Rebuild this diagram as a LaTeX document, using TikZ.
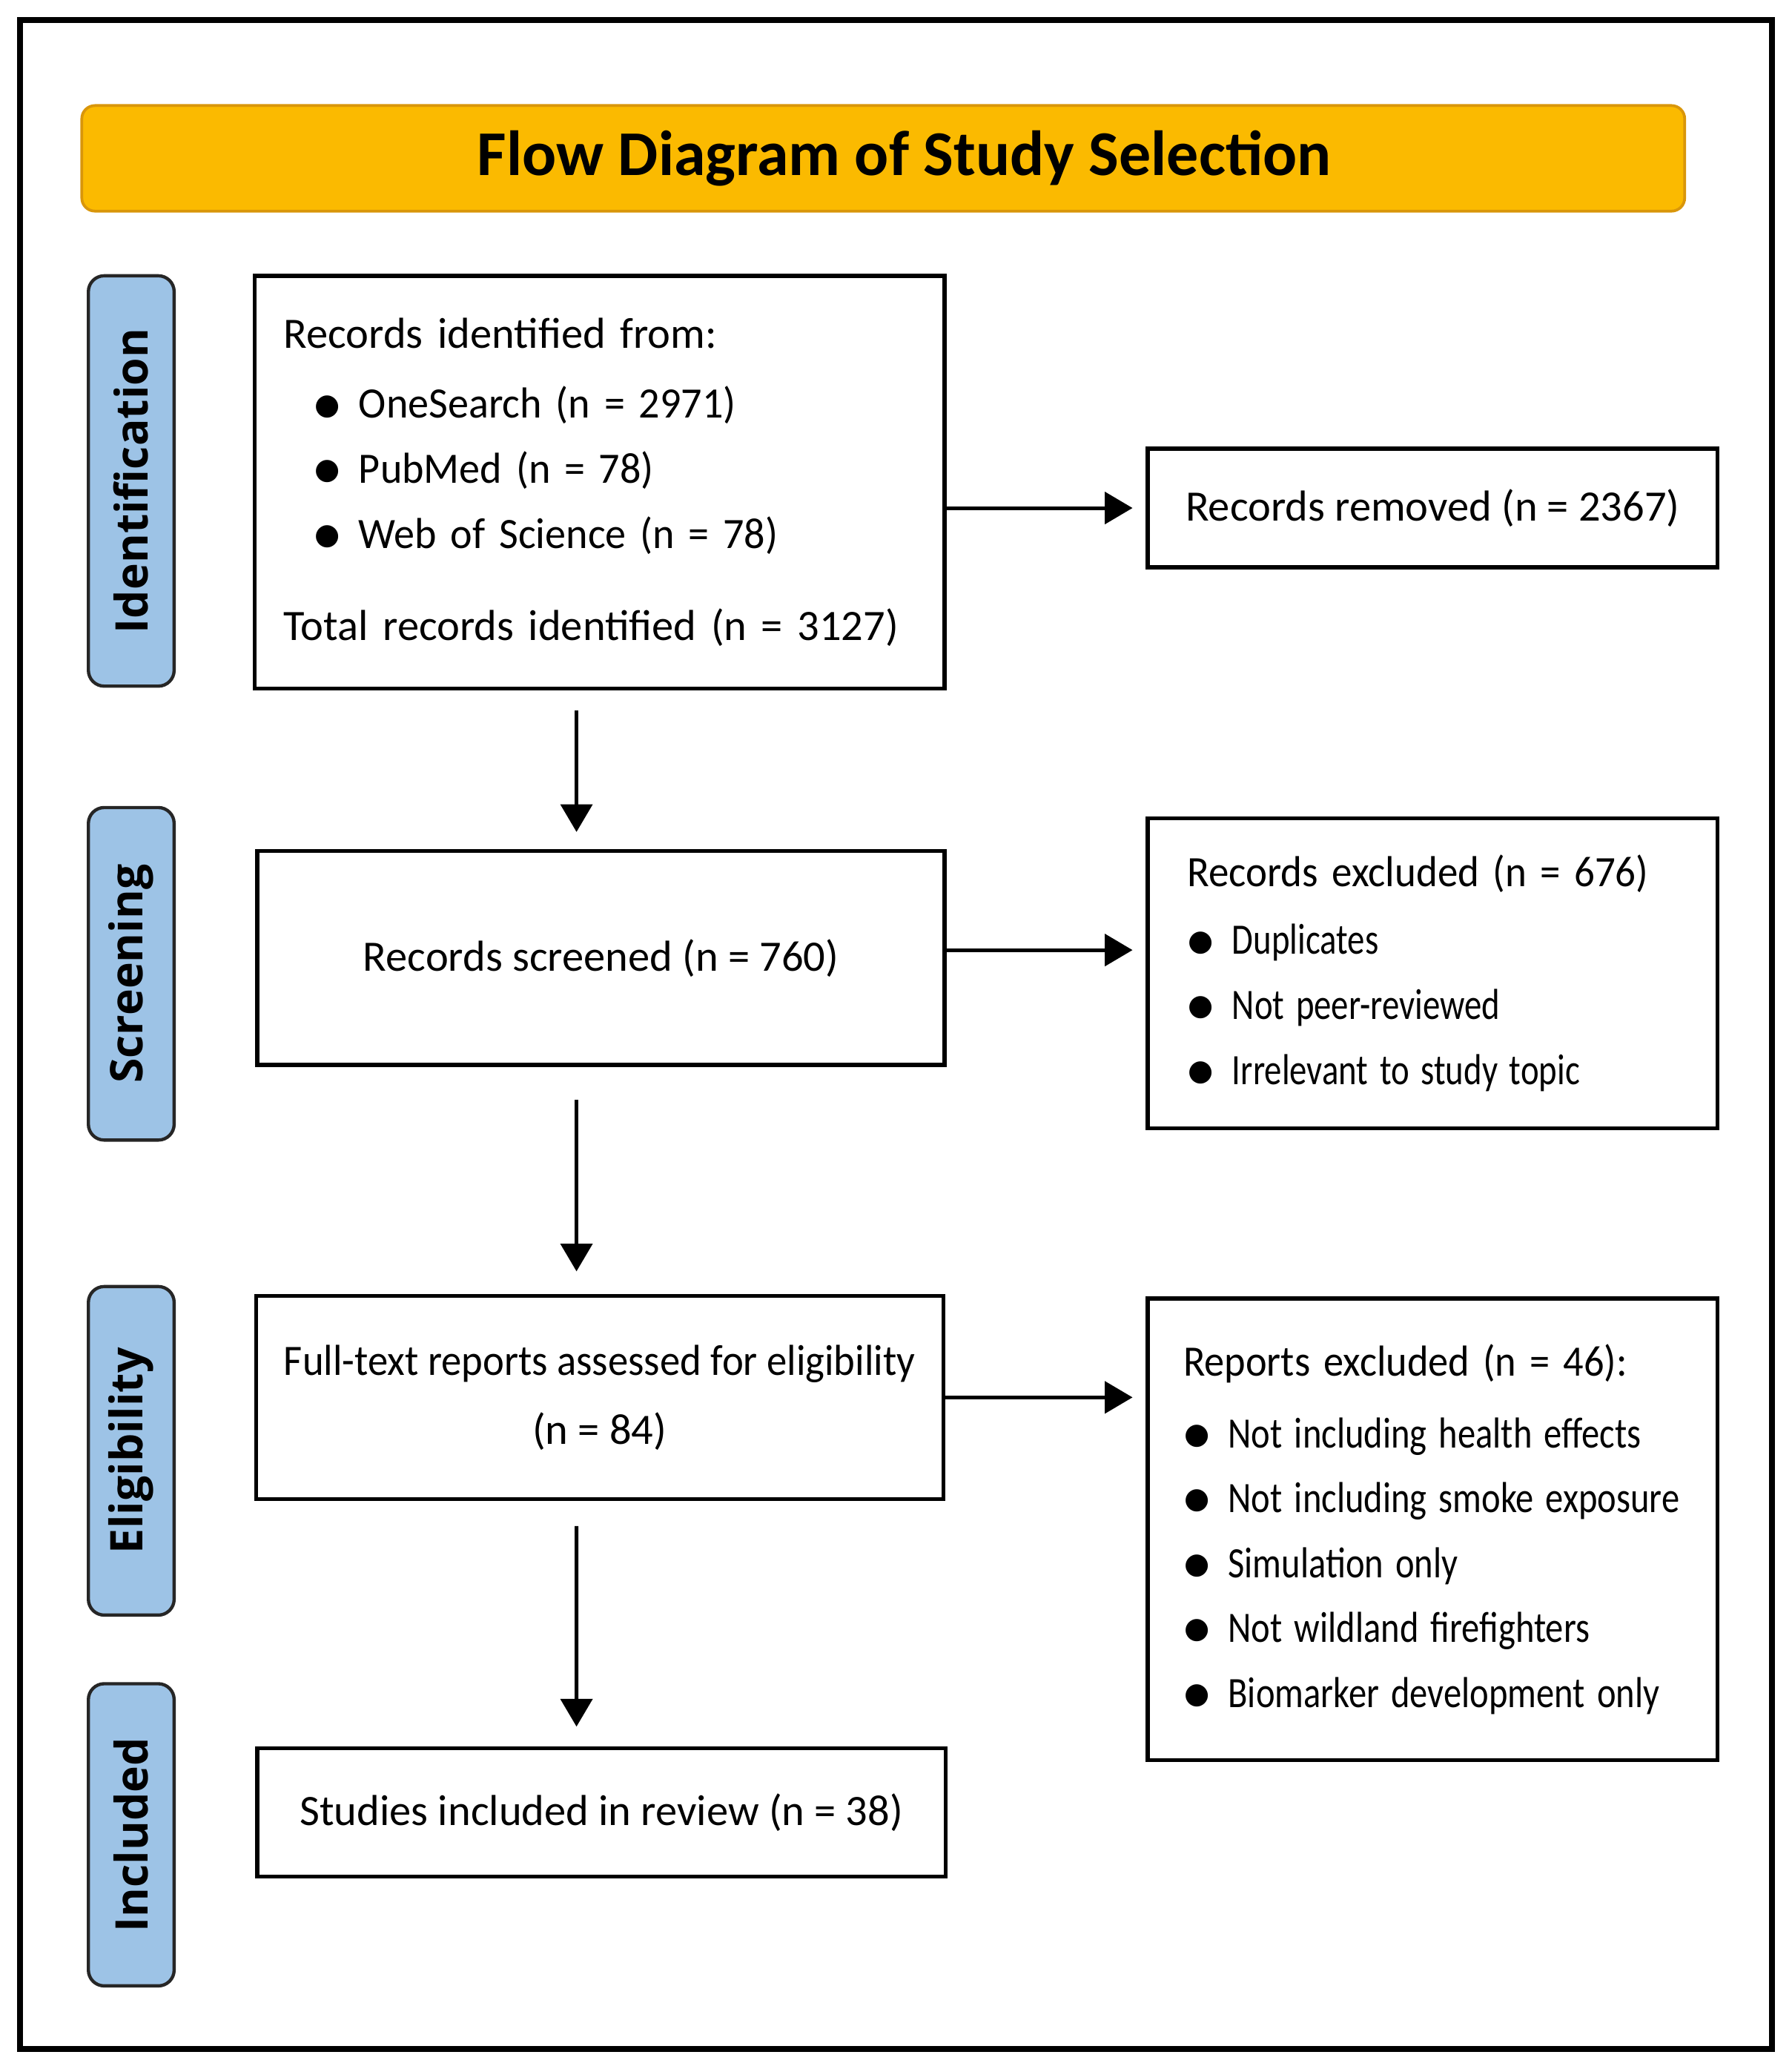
\documentclass[tikz,border=0pt]{standalone}
\usepackage{fontspec}
\usepackage{graphicx}
\setmainfont{Carlito}
\newfontfamily\stagefont{Open Sans}
\usetikzlibrary{arrows.meta}
\definecolor{bannerfill}{HTML}{FBBA00}
\definecolor{bannerline}{HTML}{D9960A}
\definecolor{stagefill}{HTML}{9DC3E6}
\newcommand{\sq}[2]{\scalebox{#1}[1]{#2}}
\newcommand{\blt}[1]{\mbox{\makebox[6.8mm][l]{\hspace{-0.3mm}\raisebox{-0.14em}{\scalebox{1.45}{\textbullet}}}#1}}
\begin{document}
\begin{tikzpicture}[x=0.2mm,y=-0.2mm,
  font=\fontsize{18.7}{28}\selectfont,
  box/.style={draw,line width=1.7pt,inner sep=0pt},
  stage/.style={draw=black!85,fill=stagefill,line width=1.4pt,rounded corners=2.4mm,rotate=90,
    minimum height=13mm,font=\stagefont\bfseries\fontsize{19.4}{21}\selectfont},
  arr/.style={line width=1.6pt,-{Triangle[length=4.2mm,width=4.8mm]}}]
\useasboundingbox (0,0) rectangle (1358,1568);
\draw[line width=2.6pt] (15,15) rectangle (1343,1553);
\node[fill=bannerfill,draw=bannerline,line width=1.2pt,rounded corners=2mm,minimum width=243mm,
  minimum height=16mm,font=\bfseries\fontsize{27.5}{30}\selectfont] (banner) at (669.5,120)
  {\hspace{6.4mm}Flow Diagram of Study Selection};
\node[stage,minimum width=62.2mm] (sident) at (99.5,364.5) {Identification};
\node[stage,minimum width=50.4mm] (sscreen) at (99.5,738) {Screening};
\node[stage,minimum width=49.8mm] (selig) at (99.5,1099.5) {Eligibility};
\node[stage,minimum width=45.8mm] (sincl) at (99.5,1390.5) {Included};
\node[box,minimum width=104.6mm,minimum height=62.6mm,text width=95.8mm,align=left] (ident) at (454.5,365.5)
  {Records identified from:\\[0.8mm]
  \hspace*{4.6mm}\blt{\sq{0.96}{OneSearch (n = 2971)}}\\
  \hspace*{4.6mm}\blt{\sq{0.96}{PubMed (n = 78)}}\\
  \hspace*{4.6mm}\blt{\sq{0.96}{Web of Science (n = 78)}}\\[4.2mm]
  Total records identified (n = 3127)};
\node[box,minimum width=104.2mm,minimum height=32.4mm] (screen) at (455.5,726) {Records screened (n = 760)};
\node[box,minimum width=104.2mm,minimum height=30.8mm,align=center] (elig) at (454.5,1059)
  {\sq{0.935}{Full-text reports assessed for eligibility}\\[0.6mm] (n = 84)};
\node[box,minimum width=104.4mm,minimum height=19.4mm] (incl) at (456,1373.5) {Studies included in review (n = 38)};
\node[box,minimum width=86.4mm,minimum height=18mm] (removed) at (1086,385) {Records removed (n = 2367)};
\node[box,minimum width=86.4mm,minimum height=47mm,text width=74.4mm,align=left] (excl) at (1086,737.5)
  {\sq{0.94}{Records excluded (n = 676)}\\[0.4mm]
  \blt{\sq{0.8}{Duplicates}}\\
  \blt{\sq{0.8}{Not peer-reviewed}}\\
  \blt{\sq{0.8}{Irrelevant to study topic}}};
\node[box,minimum width=86.4mm,minimum height=70mm,text width=75.6mm,align=left] (rep) at (1086,1159)
  {\sq{0.93}{Reports excluded (n = 46):}\\[1mm]
  \blt{\sq{0.83}{Not including health effects}}\\
  \blt{\sq{0.83}{Not including smoke exposure}}\\
  \blt{\sq{0.83}{Simulation only}}\\
  \blt{\sq{0.83}{Not wildland firefighters}}\\
  \blt{\sq{0.83}{Biomarker development only}}};
\draw[arr,shorten <=3mm,shorten >=2.6mm] ([xshift=-3.5mm]ident.south) -- ([xshift=-3.7mm]screen.north);
\draw[arr,shorten <=5mm,shorten >=3.4mm] ([xshift=-3.7mm]screen.south) -- ([xshift=-3.5mm]elig.north);
\draw[arr,shorten <=3.8mm,shorten >=3mm] ([xshift=-3.5mm]elig.south) -- ([xshift=-3.8mm]incl.north);
\draw[arr,shorten >=2mm] (ident.east |- removed.west) -- (removed.west);
\draw[arr,shorten >=2mm] ([yshift=1.2mm]screen.east) coordinate (sx) -- (sx -| excl.west);
\draw[arr,shorten >=2mm] (elig.east) -- (elig.east -| rep.west);
\end{tikzpicture}
\end{document}
